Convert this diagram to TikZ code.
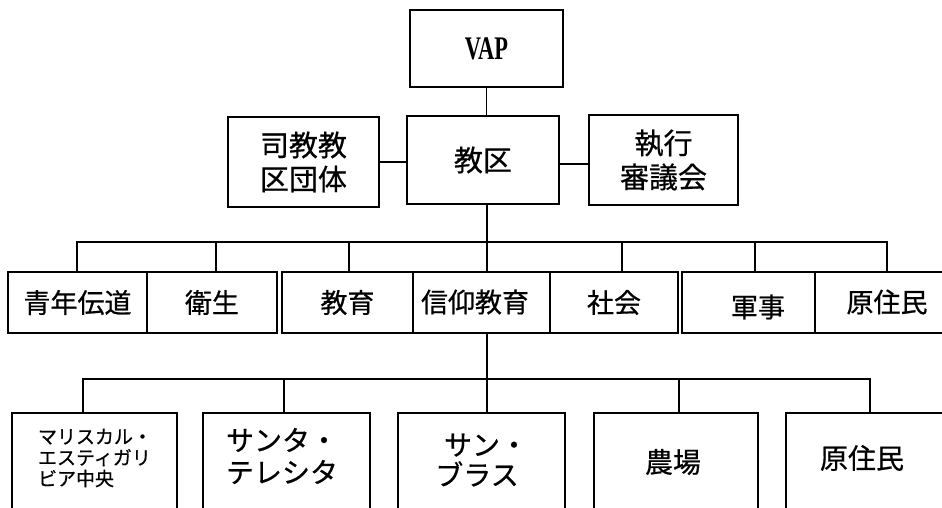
\documentclass[tikz,border=0pt]{standalone}
\usepackage{fontspec}
\setmainfont{Liberation Serif}
\newfontfamily\jp[FakeBold=0.6]{Noto Sans CJK JP}
\begin{document}
\begin{tikzpicture}[x=1pt,y=-1pt,
  box/.style={draw, line width=1.5pt, rectangle, inner sep=0pt},
  conn/.style={line width=1.5pt},
  big/.style={font=\jp\fontsize{29}{34}\selectfont, align=center, inner sep=0pt},
  mid/.style={font=\jp\fontsize{27}{32}\selectfont, align=center, inner sep=0pt},
  small/.style={font=\jp\fontsize{19}{21}\selectfont, align=left, inner sep=0pt}]
\useasboundingbox (0,0) rectangle (942,507);
\clip (0,0) rectangle (942,507);
% top level
\node[box, minimum width=153pt, minimum height=77pt] (vap) at (486.5,48.5)
  {\fontsize{33}{33}\selectfont\bfseries\scalebox{0.68}[1]{VAP}};
\node[box, big, minimum width=152pt, minimum height=88pt] (kyoku) at (483,160) {教区};
\node[box, big, minimum width=151pt, minimum height=90pt] (shikyo) at (303.5,162) {司教教\\区団体};
\node[box, big, minimum width=149pt, minimum height=90pt] (shikko) at (663.5,160) {執行\\審議会};
\draw[conn] (vap.south) -- (vap.south |- kyoku.north);
\draw[conn] (shikyo.east) -- (shikyo.east -| kyoku.west);
\draw[conn] ([yshift=-4pt]kyoku.east) -- ([yshift=-4pt]kyoku.east -| shikko.west);
% second level
\node[box, mid, minimum width=139pt, minimum height=61pt] (seinen) at (77.5,302.5) {青年伝道};
\node[box, mid, minimum width=130pt, minimum height=61pt] (eisei) at (212,302.5) {衛生};
\node[box, mid, minimum width=131pt, minimum height=61pt] (kyoiku) at (347.5,302.5) {教育};
\node[box, minimum width=137pt, minimum height=61pt] (shinko) at (481.5,302.5) {};
\node[mid] (tshinko) at (475,302) {信仰教育};
\node[box, mid, minimum width=128pt, minimum height=61pt] (shakai) at (614,302.5) {社会};
\node[box, minimum width=133pt, minimum height=61pt] (gunji) at (748.5,302.5) {};
\node[mid] (tgunji) at (758,307) {軍事};
\node[box, minimum width=135pt, minimum height=61pt] (genju) at (882.5,302.5) {};
\node[mid] (tgenju) at (887,302) {原住民};
\coordinate (b1) at (77,242);
\coordinate (b2) at (216,242);
\coordinate (b3) at (349,242);
\coordinate (bm) at (487,242);
\coordinate (b5) at (622,242);
\coordinate (b6) at (755,242);
\coordinate (b7) at (887,242);
\draw[conn] (b1 |- seinen.north) -- (b1) -- (b7) -- (b7 |- genju.north);
\draw[conn] (bm |- kyoku.south) -- (bm |- shinko.north);
\draw[conn] (b2) -- (b2 |- eisei.north);
\draw[conn] (b3) -- (b3 |- kyoiku.north);
\draw[conn] (b5) -- (b5 |- shakai.north);
\draw[conn] (b6) -- (b6 |- gunji.north);
% third level
\node[box, minimum width=165pt, minimum height=110pt, anchor=north] (mariscal) at (94.5,412) {};
\node[box, minimum width=167pt, minimum height=110pt, anchor=north] (santa) at (286.5,412) {};
\node[box, minimum width=167pt, minimum height=110pt, anchor=north] (san) at (481.5,412) {};
\node[box, minimum width=164pt, minimum height=110pt, anchor=north] (nojo) at (676,412) {};
\node[box, minimum width=170pt, minimum height=110pt, anchor=north] (genju2) at (871,412) {};
\node[small] (tmariscal) at (95,458) {マリスカル・\\エスティガリ\\ビア中央};
\node[font=\jp\fontsize{28}{32}\selectfont, align=left, inner sep=0pt] (tsanta) at (282,456) {サンタ・\\テレシタ};
\node[font=\jp\fontsize{28}{30}\selectfont, align=center, inner sep=0pt] (tsan) at (477,460) {\hspace*{18pt}サン・\\ブラス};
\node[font=\jp\fontsize{28}{32}\selectfont, inner sep=0pt] (tnojo) at (673,462) {農場};
\node[font=\jp\fontsize{28}{32}\selectfont, inner sep=0pt] (tgenju2) at (862,458) {原住民};
\coordinate (c1) at (83,379);
\coordinate (c2) at (284,379);
\coordinate (cm) at (487,379);
\coordinate (c4) at (679,379);
\coordinate (c5) at (870,379);
\draw[conn] (bm |- shinko.south) -- (bm |- san.north);
\draw[conn] (c1 |- mariscal.north) -- (c1) -- (c5) -- (c5 |- genju2.north);
\draw[conn] (c2) -- (c2 |- santa.north);
\draw[conn] (c4) -- (c4 |- nojo.north);
\end{tikzpicture}
\end{document}
